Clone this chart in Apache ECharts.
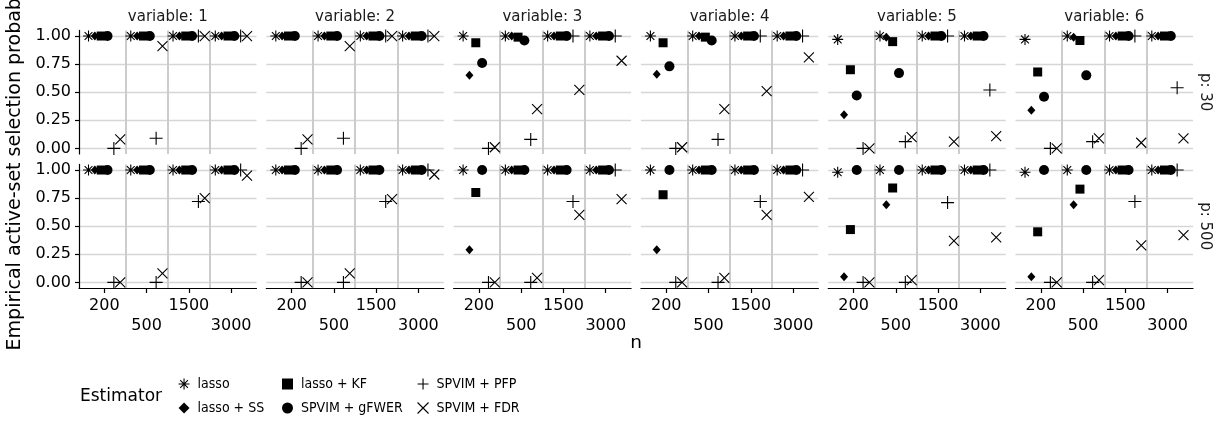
<!DOCTYPE html>
<html><head><meta charset="utf-8">
<script src="https://cdn.jsdelivr.net/npm/echarts@6/dist/echarts.min.js"></script>
<style>html,body{margin:0;padding:0;background:#fff}#c{width:1218px;height:424px}</style>
</head><body><div id="c"></div>
<script>
// ---------------- data ----------------
const nLabels = ['200', '500', '1500', '3000'];
const variables = ['1', '2', '3', '4', '5', '6'];
const pLabels = ['p: 30', 'p: 500'];
const estimators = ['lasso', 'lasso + SS', 'lasso + KF', 'SPVIM + gFWER', 'SPVIM + PFP', 'SPVIM + FDR'];
const yTicks = [0, 0.25, 0.5, 0.75, 1];

// each array: one row per variable (1..6), one value per n (200, 500, 1500, 3000)
const lasso_p30 = [
  [1, 1, 1, 1], [1, 1, 1, 1], [1, 1, 1, 1], [1, 1, 1, 1], [0.97, 1, 1, 1], [0.97, 1, 1, 1]];
const ss_p30 = [
  [1, 1, 1, 1], [1, 1, 1, 1], [0.65, 1, 1, 1], [0.66, 1, 1, 1], [0.30, 0.99, 1, 1], [0.34, 0.99, 1, 1]];
const kf_p30 = [
  [1, 1, 1, 1], [1, 1, 1, 1], [0.94, 0.99, 1, 1], [0.94, 0.99, 1, 1], [0.70, 0.95, 1, 1], [0.68, 0.96, 1, 1]];
const gfwer_p30 = [
  [1, 1, 1, 1], [1, 1, 1, 1], [0.76, 0.96, 1, 1], [0.73, 0.96, 1, 1], [0.47, 0.67, 1, 1], [0.46, 0.65, 1, 1]];
const pfp_p30 = [
  [0, 0.09, 1, 1], [0, 0.09, 1, 1], [0, 0.08, 1, 1], [0, 0.08, 1, 1], [0, 0.06, 1, 0.52], [0, 0.06, 1, 0.54]];
const fdr_p30 = [
  [0.08, 0.91, 1, 1], [0.08, 0.91, 1, 1], [0.01, 0.35, 0.52, 0.78], [0.01, 0.35, 0.51, 0.81], [0, 0.10, 0.06, 0.11], [0, 0.09, 0.05, 0.09]];

const lasso_p500 = [
  [1, 1, 1, 1], [1, 1, 1, 1], [1, 1, 1, 1], [1, 1, 1, 1], [0.98, 1, 1, 1], [0.98, 1, 1, 1]];
const ss_p500 = [
  [1, 1, 1, 1], [1, 1, 1, 1], [0.29, 1, 1, 1], [0.29, 1, 1, 1], [0.05, 0.69, 1, 1], [0.05, 0.69, 1, 1]];
const kf_p500 = [
  [1, 1, 1, 1], [1, 1, 1, 1], [0.80, 1, 1, 1], [0.78, 1, 1, 1], [0.47, 0.84, 1, 1], [0.45, 0.83, 1, 1]];
const gfwer_p500 = [
  [1, 1, 1, 1], [1, 1, 1, 1], [1, 1, 1, 1], [1, 1, 1, 1], [1, 1, 1, 1], [1, 1, 1, 1]];
const pfp_p500 = [
  [0, 0, 0.72, 1], [0, 0, 0.72, 1], [0, 0, 0.72, 1], [0, 0, 0.72, 1], [0, 0, 0.71, 1], [0, 0, 0.72, 1]];
const fdr_p500 = [
  [0, 0.08, 0.75, 0.95], [0, 0.08, 0.74, 0.96], [0, 0.04, 0.60, 0.74], [0, 0.04, 0.60, 0.76], [0, 0.02, 0.37, 0.40], [0, 0.02, 0.33, 0.42]];

const dataByP = [
  [lasso_p30, ss_p30, kf_p30, gfwer_p30, pfp_p30, fdr_p30],
  [lasso_p500, ss_p500, kf_p500, gfwer_p500, pfp_p500, fdr_p500]
];

// ---------------- styling ----------------
const FONT = 'DejaVu Sans';
const LEG_FONT = "'DejaVu Sans Condensed', 'DejaVu Sans'";
const SYM = [
  'path://M0,5L10,5M5,0L5,10M1.46,1.46L8.54,8.54M8.54,1.46L1.46,8.54',
  'diamond', 'rect', 'circle',
  'path://M0,5L10,5M5,0L5,10',
  'path://M0,0L10,10M10,0L0,10'
];
const SIZE = [11, [8, 9], 9, 10, 13, 10];
const FILLED = [false, true, true, true, false, false];
const DODGE = 0.15;

const L0 = 79, PW = 177.5, GAP = 9.8, PH = 123.6, TOPS = [30.4, 164.4];
const GRID_H = '#d6d6d6', GRID_V = '#cccccc';

const grid = [], xAxis = [], yAxis = [], series = [];
let g = 0;
for (let r = 0; r < 2; r++) {
  for (let c = 0; c < 6; c++) {
    const left = L0 + c * (PW + GAP);
    grid.push({ left: left, top: TOPS[r], width: PW, height: PH });
    // data axis: vertical separators between n groups
    xAxis.push({
      type: 'value', gridIndex: g, position: 'bottom', min: 0.4, max: 4.6,
      axisLine: { show: false },
      axisTick: { show: false, customValues: [1.5, 2.5, 3.5] },
      axisLabel: { show: false },
      splitLine: { show: true, lineStyle: { color: GRID_V, width: 2 } }
    });
    // label axis
    xAxis.push({
      type: 'value', gridIndex: g, position: 'bottom', min: 0.4, max: 4.6, show: r === 1,
      axisLine: { show: true, lineStyle: { color: '#000', width: 1.2 } },
      axisTick: { show: true, length: 5, customValues: [1, 2, 3, 4], lineStyle: { color: '#000', width: 1.2 } },
      axisLabel: {
        show: true, customValues: [1, 2, 3, 4], margin: 8,
        fontFamily: FONT, fontSize: 16, color: '#000', lineHeight: 20,
        formatter: (v) => {
          const i = Math.round(v) - 1;
          return (i % 2 === 1 ? '\n' : '') + nLabels[i];
        }
      },
      splitLine: { show: false }
    });
    yAxis.push({
      type: 'value', gridIndex: g, min: -0.05, max: 1.05,
      axisLine: { show: c === 0, lineStyle: { color: '#000', width: 1.2 } },
      axisTick: { show: c === 0, length: 4, customValues: yTicks, lineStyle: { color: '#000', width: 1.2 } },
      axisLabel: {
        show: c === 0, customValues: yTicks, margin: 8,
        fontFamily: FONT, fontSize: 16, color: '#000',
        formatter: (v) => v.toFixed(2)
      },
      splitLine: { show: true, lineStyle: { color: GRID_H, width: 1.4 } }
    });
    for (let k = 0; k < 6; k++) {
      const vals = dataByP[r][k][c];
      series.push({
        type: 'scatter', name: estimators[k],
        xAxisIndex: 2 * g, yAxisIndex: g,
        symbol: SYM[k], symbolSize: SIZE[k],
        silent: true, emphasis: { disabled: true },
        itemStyle: FILLED[k] ? { color: '#000', opacity: 1 } :
          { color: 'rgba(0,0,0,0)', borderColor: '#000', borderWidth: 1.1, opacity: 1 },
        data: vals.map((v, i) => [i + 1 + (k - 2.5) * DODGE, v]),
        z: 3 + k
      });
    }
    g++;
  }
}

function legendItem(k) {
  return {
    name: estimators[k], icon: SYM[k],
    itemStyle: FILLED[k] ? { color: '#000' } : { color: 'rgba(0,0,0,0)', borderColor: '#000', borderWidth: 1.1 }
  };
}
const legendCols = [[0, 1], [2, 3], [4, 5]];
const legendLefts = [173, 277, 412];
const legend = legendCols.map((ks, j) => ({
  orient: 'vertical', left: legendLefts[j], top: 371, selectedMode: false,
  itemWidth: 11, itemHeight: 11, itemGap: 8,
  textStyle: { fontFamily: LEG_FONT, fontSize: 14, color: '#000', lineHeight: 16, padding: [0, 0, 0, 3] },
  data: ks.map(legendItem)
}));

const graphic = [];
for (let c = 0; c < 6; c++) {
  graphic.push({
    type: 'text', x: L0 + c * (PW + GAP) + PW / 2, y: 17.5,
    style: { text: 'variable: ' + variables[c], fontFamily: FONT, fontSize: 15, fill: '#1a1a1a', align: 'center', verticalAlign: 'middle' }
  });
}
for (let r = 0; r < 2; r++) {
  graphic.push({
    type: 'text', x: 1205, y: TOPS[r] + PH / 2, rotation: -Math.PI / 2,
    style: { text: pLabels[r], fontFamily: FONT, fontSize: 15, fill: '#1a1a1a', align: 'center', verticalAlign: 'middle' }
  });
}
graphic.push({
  type: 'text', x: 15, y: 157, rotation: Math.PI / 2,
  style: { text: 'Empirical active-set selection probability', fontFamily: FONT, fontSize: 19, fill: '#000', align: 'center', verticalAlign: 'middle' }
});
graphic.push({
  type: 'text', x: L0 + (6 * PW + 5 * GAP) / 2, y: 343,
  style: { text: 'n', fontFamily: FONT, fontSize: 18.5, fill: '#000', align: 'center', verticalAlign: 'middle' }
});
graphic.push({
  type: 'text', x: 80, y: 397,
  style: { text: 'Estimator', fontFamily: FONT, fontSize: 17, fill: '#000', align: 'left', verticalAlign: 'middle' }
});

const chart = echarts.init(document.getElementById('c'), null, { renderer: 'canvas' });
chart.setOption({
  animation: false,
  backgroundColor: '#fff',
  grid, xAxis, yAxis, series, legend, graphic
});
</script>
</body></html>
